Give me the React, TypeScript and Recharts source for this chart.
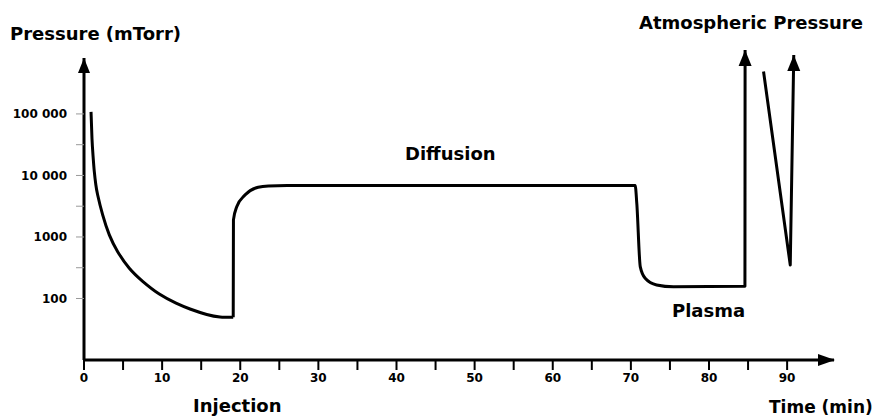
import React from "react";
import { LineChart, Line, XAxis, YAxis, ReferenceLine, ReferenceDot } from "recharts";

// pump-down after loading (time in min, pressure in mTorr)
const pumpTime = [
  0.9, 1.02, 1.15, 1.32, 1.51, 1.75, 2.39, 3.24, 4.31, 5.8, 7.51, 9.64, 11.78, 13.57, 15.71, 17.41, 19.1,
];
const pumpP = [
  108000, 40200, 21500, 11500, 7130, 4810, 2280, 1080, 577, 310, 190, 118, 84, 67.5, 55, 50, 49.4,
];
// injection, diffusion, plasma, vent
const cycleTime = [19.1, 19.13, 19.55, 20.6, 22.3, 23.6, 26, 70.55, 70.76, 71.2, 71.83, 73.3, 75.45, 84.6, 84.62];
const cycleP = [49.4, 1900, 3090, 4800, 6450, 6750, 6850, 6850, 3470, 330, 213, 166, 155, 158, 1100000];
// second venting / pump-down stroke
const ventTime = [86.98, 90.4, 90.85];
const ventP = [490000, 350, 910000];

const xTicks = [0, 5, 10, 15, 20, 25, 30, 35, 40, 45, 50, 55, 60, 65, 70, 75, 80, 85, 90];
const yTicks = [100, 316.2, 1000, 3162, 10000, 31623, 100000];
const yTickLabels: Record<number, string> = { 100: "100", 1000: "1000", 10000: "10 000", 100000: "100 000" };

const X_MAX = 96;
const Y_MIN = 10;
const Y_MAX = 1180000;
const Y_AXIS_TOP = 813000;

const pumpData = pumpTime.map((t, i) => ({ t, p: pumpP[i] }));
const cycleData = cycleTime.map((t, i) => ({ t, p: cycleP[i] }));
const ventData = ventTime.map((t, i) => ({ t, p: ventP[i] }));

const font = "'DejaVu Sans', sans-serif";
const tickStyle = { fontFamily: font, fontWeight: "bold", fontSize: 12, fill: "#000" };

// arrow head drawn on the last point of a series
const arrowDot = (last: number) => (props: any) => {
  const { cx, cy, index } = props;
  if (index !== last || cx == null) return <g key={`d${index}`} />;
  return <path key={`d${index}`} d={`M${cx},${cy} L${cx - 6.5},${cy + 16} L${cx + 6.5},${cy + 16} Z`} fill="#000" />;
};

const UpArrow = (props: any) => (
  <path d={`M${props.cx},${props.cy} L${props.cx - 6},${props.cy + 15} L${props.cx + 6},${props.cy + 15} Z`} fill="#000" />
);
const RightArrow = (props: any) => (
  <path d={`M${props.cx + 1},${props.cy} L${props.cx - 16},${props.cy - 6} L${props.cx - 16},${props.cy + 6} Z`} fill="#000" />
);

const labelStyle: React.CSSProperties = { fontFamily: font, fontWeight: "bold", fontSize: 18, fill: "#000" } as any;

export default function App() {
  return (
    <div style={{ position: "absolute", left: 0, top: 0, width: 877, height: 418, background: "#fff" }}>
      <LineChart width={877} height={418} margin={{ top: 48, right: 43, bottom: 28, left: 0 }}>
        <XAxis
          dataKey="t" type="number" domain={[0, X_MAX]} ticks={xTicks} interval={0} height={30}
          allowDataOverflow
          tickFormatter={(v) => (v % 10 === 0 ? String(v) : "")}
          axisLine={{ stroke: "#000", strokeWidth: 3 }}
          tickLine={{ stroke: "#000", strokeWidth: 2 }}
          tickSize={10} tickMargin={3} tick={tickStyle}
        />
        <YAxis
          type="number" scale="log" domain={[Y_MIN, Y_MAX]} ticks={yTicks} interval={0} width={84}
          tickFormatter={(v) => yTickLabels[v] ?? ""}
          axisLine={false}
          tickLine={{ stroke: "#999", strokeWidth: 1 }}
          tickSize={8} tickMargin={9} tick={tickStyle}
        />
        <ReferenceLine segment={[{ x: 0, y: Y_MIN }, { x: 0, y: Y_AXIS_TOP }]} stroke="#000" strokeWidth={3} />
        <ReferenceDot x={0} y={Y_AXIS_TOP} r={0} shape={UpArrow} />
        <ReferenceDot x={X_MAX} y={Y_MIN} r={0} shape={RightArrow} />
        <Line
          data={pumpData} dataKey="p" type="natural" stroke="#000" strokeWidth={3}
          strokeLinejoin="round" dot={false} activeDot={false} isAnimationActive={false}
        />
        <Line
          data={cycleData} dataKey="p" type="monotone" stroke="#000" strokeWidth={3}
          strokeLinejoin="round" dot={arrowDot(cycleData.length - 1)} activeDot={false}
          isAnimationActive={false}
        />
        <Line
          data={ventData} dataKey="p" type="linear" stroke="#000" strokeWidth={3}
          strokeLinejoin="round" dot={arrowDot(ventData.length - 1)} activeDot={false}
          isAnimationActive={false}
        />
      </LineChart>
      <svg width={877} height={418} style={{ position: "absolute", left: 0, top: 0, pointerEvents: "none" }}>
        <text x={10} y={39.5} style={labelStyle}>Pressure (mTorr)</text>
        <text x={639} y={28.5} style={labelStyle}>Atmospheric Pressure</text>
        <text x={405} y={160} style={labelStyle}>Diffusion</text>
        <text x={672} y={317} style={labelStyle}>Plasma</text>
        <text x={193} y={412} style={labelStyle}>Injection</text>
        <text x={769} y={413} style={{ ...labelStyle, fontSize: 17 }}>Time (min)</text>
      </svg>
    </div>
  );
}
